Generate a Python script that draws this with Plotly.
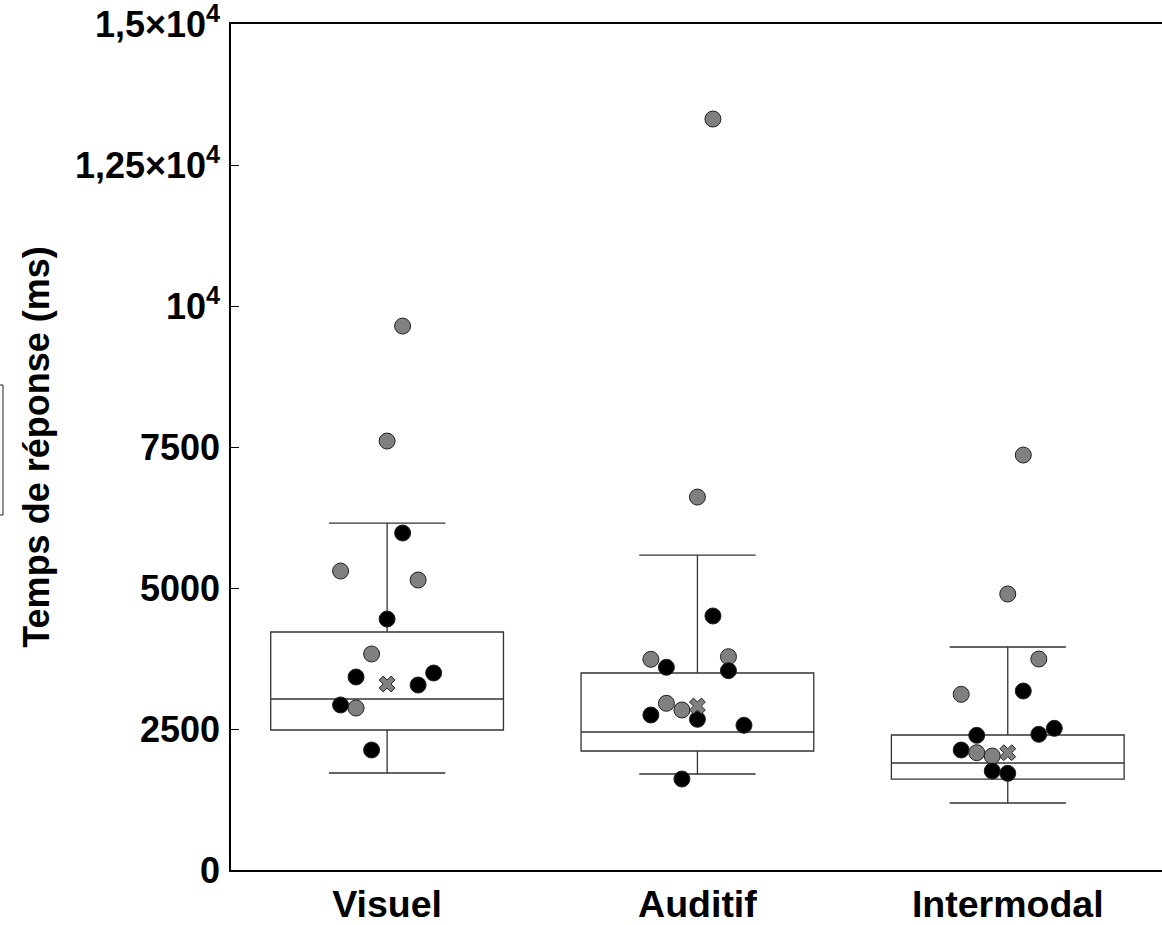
import plotly.graph_objects as go

# ---- data ----
categories = ["Visuel", "Auditif", "Intermodal"]
cat_pos = [0, 1, 2]

q1 = [2482, 2110, 1613]
median = [3032, 2447, 1897]
q3 = [4220, 3493, 2394]
lower_whisker = [1720, 1702, 1188]
upper_whisker = [6152, 5585, 3954]
means = [3298, 2908, 2080]

# individual points: (jitter offset, value, group) per category
visuel_offsets = [0.05, 0.0, -0.15, 0.10, -0.05, -0.10, 0.05, 0.0, -0.10, 0.15, 0.10, -0.15, -0.05]
visuel_values = [9645, 7606, 5301, 5142, 3830, 2872, 5975, 4450, 3422, 3493, 3280, 2926, 2128]
visuel_groups = ["g", "g", "g", "g", "g", "g", "b", "b", "b", "b", "b", "b", "b"]

auditif_offsets = [0.05, 0.0, -0.15, 0.10, -0.10, -0.05, 0.05, -0.10, 0.10, -0.15, 0.0, 0.15, -0.05]
auditif_values = [13316, 6613, 3736, 3782, 2956, 2837, 4504, 3594, 3534, 2748, 2672, 2566, 1613]
auditif_groups = ["g", "g", "g", "g", "g", "g", "b", "b", "b", "b", "b", "b", "b"]

inter_offsets = [0.05, 0.0, 0.10, -0.15, 0.05, -0.10, 0.15, 0.10, -0.15, -0.10, -0.05, -0.05, 0.0]
inter_values = [7358, 4894, 3741, 3115, 3174, 2388, 2512, 2406, 2128, 2080, 2021, 1755, 1714]
inter_groups = ["g", "g", "g", "g", "b", "b", "b", "b", "b", "g", "g", "b", "b"]

ytick_vals = [0, 2500, 5000, 7500, 10000, 12500, 15000]
ytick_text = ["0", "2500", "5000", "7500", "10<sup>4</sup>", "1,25×10<sup>4</sup>", "1,5×10<sup>4</sup>"]

color_map = {"g": "#808080", "b": "#000000"}
FONT = "Liberation Sans, Arial, sans-serif"

fig = go.Figure()

for i in range(3):
    fig.add_trace(go.Box(
        x=[cat_pos[i]], q1=[q1[i]], median=[median[i]], q3=[q3[i]],
        lowerfence=[lower_whisker[i]], upperfence=[upper_whisker[i]],
        width=0.75, whiskerwidth=0.5, fillcolor="white",
        line=dict(color="#333333", width=1.3), boxpoints=False,
        showlegend=False, hoverinfo="skip"))

point_sets = [
    (visuel_offsets, visuel_values, visuel_groups),
    (auditif_offsets, auditif_values, auditif_groups),
    (inter_offsets, inter_values, inter_groups),
]

for i, (offs, vals, grps) in enumerate(point_sets):
    fig.add_trace(go.Scatter(
        x=[cat_pos[i] + o for o in offs], y=vals, mode="markers",
        marker=dict(size=16, color=[color_map[g] for g in grps],
                    line=dict(color="#222222", width=1)),
        showlegend=False, cliponaxis=False))

fig.add_trace(go.Scatter(
    x=cat_pos, y=means, mode="markers",
    marker=dict(symbol="x", size=14, color="#808080",
                line=dict(color="#222222", width=1)),
    showlegend=False))

# partial (cut-off) box at the left edge
fig.add_shape(type="rect", xref="paper", yref="paper",
              x0=(-30 - 231) / 931, x1=(3 - 231) / 931,
              y0=(870 - 515) / 846, y1=(870 - 385) / 846,
              line=dict(color="#222222", width=1), fillcolor="rgba(0,0,0,0)")

fig.update_layout(
    width=1162, height=925,
    margin=dict(l=231, r=0, t=24, b=55),
    paper_bgcolor="white", plot_bgcolor="white",
    font=dict(family=FONT, color="black"),
    xaxis=dict(range=[-0.503, 2.497], tickvals=cat_pos,
               ticktext=["<b>" + c + "</b>" for c in categories],
               tickfont=dict(size=37.5, family=FONT, color="black"),
               showgrid=False, zeroline=False, showline=True,
               linecolor="black", linewidth=1.5, mirror=True, ticks=""),
    yaxis=dict(range=[0, 15001], tickvals=ytick_vals,
               ticktext=["<b>" + t + "</b>" for t in ytick_text],
               tickfont=dict(size=36, family=FONT, color="black"),
               ticklabeloverflow="allow",
               showgrid=False, zeroline=False, showline=True,
               linecolor="black", linewidth=1.5, mirror=False,
               ticks="inside", ticklen=8, tickcolor="black", tickwidth=1,
               ticklabelstandoff=2,
               title=dict(text="<b>Temps de réponse (ms)</b>",
                          font=dict(size=36, family=FONT, color="black"),
                          standoff=14)),
)

fig.write_html("out.html")
